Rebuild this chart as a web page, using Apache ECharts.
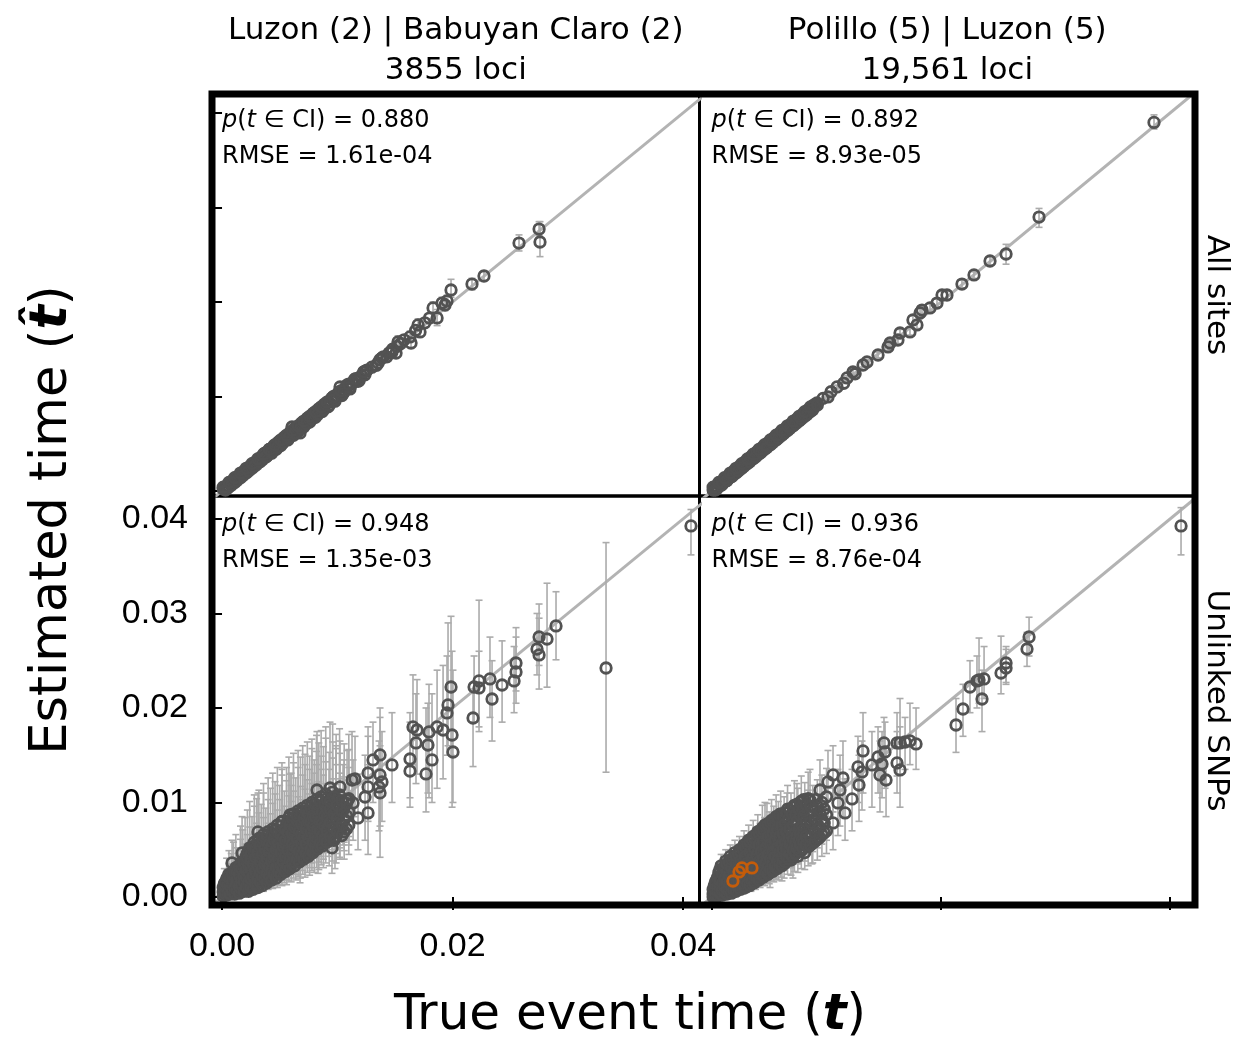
<!DOCTYPE html>
<html><head><meta charset="utf-8">
<script src="https://cdn.jsdelivr.net/npm/echarts@6/dist/echarts.min.js"></script>
<style>html,body{margin:0;padding:0;background:#fff}#c{width:1243px;height:1048px}</style>
</head><body><div id="c"></div><script>
// ---------------- data ----------------
const colTitles = ['Luzon (2) | Babuyan Claro (2)\n3855 loci', 'Polillo (5) | Luzon (5)\n19,561 loci'];
const rowLabels = ['All sites', 'Unlinked SNPs'];
const pInCI = ['0.880', '0.892', '0.948', '0.936'];
const rmse = ['1.61e-04', '8.93e-05', '1.35e-03', '8.76e-04'];
const xTicks = [0, 0.02, 0.04];
const yTicks = [0, 0.01, 0.02, 0.03, 0.04];
const identityEnds = [-0.002, 0.045];

// each point: [true time, estimated time, CI low, CI high] (CI optional)
const allSitesLeft = [
[0.0001,0.0002],[0.0003,0.0002],[0.0004,0.0005],[0.0006,0.0005],[0.0007,0.0008],[0.0009,0.0009],[0.0010,0.0011],[0.0012,0.0012],
[0.0014,0.0013],[0.0015,0.0016],[0.0017,0.0017],[0.0019,0.0018],[0.0020,0.0021],[0.0022,0.0022],[0.0024,0.0023],[0.0025,0.0026],
[0.0027,0.0027],[0.0029,0.0028],[0.0031,0.0031],[0.0032,0.0033],[0.0034,0.0034],[0.0036,0.0035],[0.0038,0.0038],[0.0040,0.0041],
[0.0042,0.0041],[0.0044,0.0045],[0.0046,0.0046],[0.0048,0.0047],[0.0050,0.0051],[0.0052,0.0052],[0.0053,0.0054],[0.0056,0.0055],
[0.0058,0.0059],[0.0060,0.0061],[0.0063,0.0062],[0.0065,0.0066],[0.0067,0.0068],[0.0070,0.0069],[0.0072,0.0073],[0.0075,0.0075],
[0.0077,0.0078],[0.0080,0.0079],[0.0082,0.0083],[0.0085,0.0086],[0.0088,0.0087],[0.0090,0.0092],[0.0093,0.0094],[0.0096,0.0097],
[0.0099,0.0100],[0.0102,0.0103],[0.0106,0.0105],[0.0109,0.0111],[0.0113,0.0114],[0.0117,0.0118],[0.0121,0.0122],[0.0125,0.0127],
[0.0140,0.0142],[0.0145,0.0146],[0.0152,0.0153],[0.0158,0.0160],[0.0168,0.0170],[0.0176,0.0178],[0.0180,0.0183],
[0.00529,0.00540,0.0052,0.0057],[0.00607,0.00677,0.0065,0.0071],[0.00677,0.00614,0.0059,0.0064],[0.00824,0.00825,0.0080,0.0085],
[0.00963,0.00995,0.0097,0.0103],[0.01024,0.01101,0.0107,0.0114],[0.01085,0.01122,0.0109,0.0115],[0.01258,0.01280,0.0124,0.0132],
[0.01354,0.01354,0.0131,0.0140],[0.01388,0.01407,0.0136,0.0145],[0.01475,0.01471,0.0143,0.0152],[0.01510,0.01460,0.0141,0.0150],
[0.01527,0.01577,0.0153,0.0164],[0.01640,0.01566,0.0151,0.0162],[0.01631,0.01630,0.0158,0.0169],[0.01718,0.01683,0.0163,0.0174],
[0.01701,0.01757,0.0170,0.0182],[0.01866,0.01831,0.0175,0.0192],[0.01831,0.01937,0.0188,0.0200],[0.01935,0.01968,0.0191,0.0203],
[0.01909,0.01989,0.0193,0.0205],[0.01952,0.02011,0.0195,0.0207],[0.01987,0.02127,0.0205,0.0224],[0.02169,0.02190,0.0213,0.0225],
[0.02273,0.02275,0.0222,0.0233],[0.02577,0.02624,0.0254,0.0271],[0.02751,0.02772,0.0270,0.0285],[0.02759,0.02635,0.0248,0.0285]
];
const allSitesLeftDense = [
[0.0002,0.0004],[0.0005,0.0003],[0.0008,0.0010],[0.0011,0.0009],[0.0013,0.0015],[0.0016,0.0014],[0.0018,0.0020],[0.0021,0.0019],
[0.0023,0.0025],[0.0026,0.0024],[0.0028,0.0030],[0.0030,0.0028],[0.0033,0.0035],[0.0035,0.0033],[0.0037,0.0040],[0.0039,0.0037],
[0.0041,0.0044],[0.0043,0.0040],[0.0045,0.0048],[0.0047,0.0044],[0.0049,0.0052],[0.0051,0.0048],[0.0054,0.0057],[0.0057,0.0054],
[0.0059,0.0062],[0.0062,0.0059],[0.0064,0.0067],[0.0066,0.0063],[0.0069,0.0072],[0.0071,0.0068],[0.0074,0.0077],[0.0076,0.0073],
[0.0079,0.0082],[0.0081,0.0078],[0.0084,0.0087],[0.0087,0.0084],[0.0089,0.0092],[0.0092,0.0089],[0.0095,0.0098],[0.0098,0.0095],
[0.0101,0.0104],[0.0104,0.0101],[0.0108,0.0111],[0.0111,0.0108],[0.0115,0.0118],[0.0119,0.0117],[0.0123,0.0126]
];
const allSitesLeftEdge = [
[0.0003,0.0001],[0.0001,0.0004],[0.0008,0.0006],[0.0006,0.0009],[0.0013,0.0011],[0.0011,0.0014],[0.0018,0.0016],[0.0016,0.0019],
[0.0023,0.0021],[0.0021,0.0024],[0.0028,0.0026],[0.0026,0.0029],[0.0033,0.0031],[0.0031,0.0034],[0.0038,0.0036],[0.0036,0.0039],
[0.0043,0.0041],[0.0041,0.0044],[0.0048,0.0046],[0.0046,0.0049],[0.0053,0.0051],[0.0051,0.0054],[0.0058,0.0056],[0.0056,0.0059],
[0.0063,0.0061],[0.0061,0.0064],[0.0068,0.0066],[0.0066,0.0069],[0.0073,0.0071],[0.0071,0.0074],[0.0078,0.0076],[0.0076,0.0079],
[0.0083,0.0081],[0.0081,0.0084],[0.0088,0.0086],[0.0086,0.0089],[0.0093,0.0091],[0.0091,0.0094],[0.0098,0.0097],[0.0097,0.0100],
[0.0105,0.0103],[0.0103,0.0106],[0.0111,0.0110],[0.0110,0.0113],[0.0118,0.0116],[0.0116,0.0119],[0.0124,0.0123],[0.0123,0.0126],
[0.0130,0.0131],[0.0134,0.0133],[0.0137,0.0139],[0.0143,0.0142],[0.0148,0.0150],[0.0155,0.0156]
];

const allSitesRight = [
[0.0001,0.0001],[0.0002,0.0003],[0.0003,0.0002],[0.0004,0.0005],[0.0005,0.0004],[0.0006,0.0007],[0.0008,0.0007],[0.0009,0.0010],
[0.0010,0.0009],[0.0012,0.0012],[0.0013,0.0014],[0.0014,0.0013],[0.0016,0.0016],[0.0017,0.0018],[0.0019,0.0018],[0.0020,0.0021],
[0.0022,0.0022],[0.0023,0.0024],[0.0025,0.0024],[0.0026,0.0027],[0.0028,0.0028],[0.0030,0.0029],[0.0031,0.0032],[0.0033,0.0033],
[0.0034,0.0035],[0.0036,0.0035],[0.0038,0.0038],[0.0039,0.0040],[0.0041,0.0041],[0.0043,0.0042],[0.0045,0.0045],[0.0046,0.0047],
[0.0048,0.0048],[0.0050,0.0049],[0.0052,0.0052],[0.0054,0.0054],[0.0056,0.0055],[0.0058,0.0058],[0.0060,0.0061],[0.0062,0.0062],
[0.0064,0.0063],[0.0066,0.0067],[0.0068,0.0068],[0.0070,0.0070],[0.0072,0.0073],[0.0074,0.0074],[0.0076,0.0076],[0.0078,0.0079],
[0.0080,0.0080],[0.0082,0.0082],[0.0084,0.0085],[0.0086,0.0086],[0.0088,0.0089],[0.0090,0.0091],
[0.0097,0.0098],[0.0104,0.0105],[0.0115,0.0114],[0.0125,0.0124],
[0.00917,0.00931,0.0091,0.0095],[0.01013,0.00995,0.0097,0.0102],[0.01092,0.01101,0.0108,0.0112],[0.01179,0.01196,0.0117,0.0122],
[0.01231,0.01259,0.0123,0.0129],[0.01319,0.01333,0.0131,0.0136],[0.01354,0.01365,0.0134,0.0139],[0.01450,0.01439,0.0141,0.0147],
[0.01537,0.01524,0.0149,0.0156],[0.01555,0.01566,0.0153,0.0160],[0.01624,0.01598,0.0156,0.0163],[0.01642,0.01672,0.0163,0.0171],
[0.01729,0.01683,0.0165,0.0172],[0.01790,0.01757,0.0172,0.0179],[0.01755,0.01810,0.0177,0.0185],[0.01817,0.01884,0.0184,0.0193],
[0.01904,0.01937,0.0190,0.0198],[0.01965,0.01989,0.0195,0.0203],[0.01834,0.01915,0.0188,0.0195],[0.02009,0.02074,0.0203,0.0211],
[0.02052,0.02074,0.0203,0.0211],[0.02183,0.02190,0.0215,0.0223],[0.02288,0.02286,0.0225,0.0232],[0.02428,0.02434,0.0239,0.0248],
[0.02568,0.02508,0.0240,0.0261],[0.02856,0.02899,0.0279,0.0299],[0.0386,0.0390,0.0383,0.0398]
];
const allSitesRightDense = [
[0.0002,0.0004],[0.0004,0.0002],[0.0007,0.0009],[0.0009,0.0007],[0.0011,0.0013],[0.0013,0.0011],[0.0015,0.0017],[0.0017,0.0015],
[0.0019,0.0021],[0.0021,0.0019],[0.0024,0.0026],[0.0026,0.0024],[0.0029,0.0031],[0.0031,0.0029],[0.0034,0.0036],[0.0036,0.0034],
[0.0039,0.0041],[0.0041,0.0039],[0.0044,0.0046],[0.0046,0.0044],[0.0049,0.0051],[0.0051,0.0049],[0.0054,0.0056],[0.0056,0.0054],
[0.0059,0.0061],[0.0061,0.0059],[0.0064,0.0066],[0.0066,0.0064],[0.0069,0.0071],[0.0071,0.0069],[0.0074,0.0076],[0.0076,0.0074],
[0.0079,0.0081],[0.0081,0.0079],[0.0084,0.0086],[0.0086,0.0084],[0.0089,0.0091]
];
const allSitesRightEdge = [
[0.0003,0.0001],[0.0001,0.0004],[0.0008,0.0006],[0.0006,0.0009],[0.0013,0.0011],[0.0011,0.0014],[0.0018,0.0016],[0.0016,0.0019],
[0.0023,0.0021],[0.0021,0.0024],[0.0028,0.0026],[0.0026,0.0029],[0.0033,0.0031],[0.0031,0.0034],[0.0038,0.0036],[0.0036,0.0039],
[0.0043,0.0041],[0.0041,0.0044],[0.0048,0.0046],[0.0046,0.0049],[0.0053,0.0051],[0.0051,0.0054],[0.0058,0.0056],[0.0056,0.0059],
[0.0063,0.0061],[0.0061,0.0064],[0.0068,0.0066],[0.0066,0.0069],[0.0073,0.0071],[0.0071,0.0074],[0.0078,0.0076],[0.0076,0.0079],
[0.0083,0.0081],[0.0081,0.0084],[0.0088,0.0086],[0.0086,0.0089],[0.0092,0.0091]
];

const unlinkedLeft = [
[0.04069,0.03926,0.0362,0.0410],[0.03332,0.02423,0.0132,0.0375],[0.02898,0.02868,0.0251,0.0323],[0.02820,0.02730,0.0222,0.0332],
[0.02751,0.02751,0.0245,0.0310],[0.02733,0.02624,0.0235,0.0300],[0.02751,0.02561,0.0220,0.0295],[0.02551,0.02476,0.0218,0.0285],
[0.02551,0.02381,0.0205,0.0275],[0.02534,0.02286,0.0195,0.0265],[0.02430,0.02243,0.0185,0.0271],[0.02325,0.02307,0.0190,0.0275],
[0.02343,0.02095,0.0165,0.0250],[0.02230,0.02286,0.0175,0.0314],[0.02230,0.02212,0.0180,0.0260],[0.02187,0.02222,0.0185,0.0255],
[0.01987,0.02222,0.0150,0.0297],
[0.02178,0.01894,0.0138,0.0220],[0.01961,0.02032,0.0160,0.0290],[0.01952,0.01947,0.0150,0.0255],[0.01657,0.01799,0.0140,0.0235],
[0.01692,0.01767,0.0130,0.0230],[0.01683,0.01630,0.0120,0.0215],[0.01796,0.01746,0.0105,0.0225],[0.01866,0.01799,0.0115,0.0240],
[0.01918,0.01767,0.0125,0.0245],[0.01996,0.01714,0.0095,0.0260],[0.02004,0.01534,0.0100,0.0240],[0.01787,0.01608,0.0110,0.0205],
[0.01822,0.01450,0.0100,0.0215],[0.01770,0.01302,0.0090,0.0200],[0.01631,0.01460,0.0105,0.0195],[0.01631,0.01333,0.0095,0.0185],
[0.01475,0.01397,0.0100,0.0195],[0.01371,0.01503,0.0105,0.0200],[0.01310,0.01450,0.0100,0.0185],[0.01267,0.01312,0.0085,0.0180],
[0.01371,0.01291,0.0075,0.0190],[0.01388,0.01217,0.0080,0.0175],[0.01362,0.01164,0.0070,0.0165],[0.01371,0.01101,0.0042,0.0160],
[0.01267,0.01164,0.0080,0.0170],[0.01241,0.01058,0.0060,0.0150],[0.01267,0.00889,0.0045,0.0140],[0.01180,0.00836,0.0050,0.0130],
[0.01128,0.01238,0.0080,0.0175],[0.01154,0.01249,0.0085,0.0170],[0.01024,0.01164,0.0070,0.0165],[0.00937,0.01153,0.0065,0.0185],
[0.00824,0.01132,0.0065,0.0175],[0.01085,0.01026,0.0060,0.0155],[0.00989,0.00952,0.0050,0.0160],[0.01050,0.00921,0.0055,0.0140],
[0.01137,0.00995,0.0060,0.0145],[0.01024,0.00783,0.0040,0.0125],[0.00954,0.00519,0.0025,0.0110],[0.00980,0.00624,0.0030,0.0120],
[0.00833,0.00529,0.0025,0.0100],[0.00677,0.00392,0.0015,0.0085],[0.00590,0.00868,0.0050,0.0130],[0.00521,0.00794,0.0045,0.0135],
[0.00312,0.00688,0.0035,0.0110],[0.00174,0.00466,0.0020,0.0085],[0.00087,0.00360,0.0015,0.0060],
[0.0002,0.0003,0.0001,0.0009],[0.0002,0.0008,0.0003,0.0019],[0.0002,0.0014,0.0006,0.0030],
[0.0004,0.0002,0.0001,0.0007],[0.0004,0.0011,0.0004,0.0026],[0.0004,0.0019,0.0008,0.0041],
[0.0006,0.0006,0.0002,0.0016],[0.0006,0.0016,0.0007,0.0035],[0.0006,0.0024,0.0011,0.0049],
[0.0008,0.0004,0.0001,0.0013],[0.0008,0.0010,0.0004,0.0024],[0.0008,0.0021,0.0010,0.0046],
[0.0010,0.0007,0.0002,0.0019],[0.0010,0.0014,0.0006,0.0033],[0.0010,0.0027,0.0012,0.0058],
[0.0012,0.0005,0.0002,0.0015],[0.0012,0.0018,0.0008,0.0040],[0.0012,0.0024,0.0011,0.0052],[0.0012,0.0031,0.0015,0.0066],
[0.0014,0.0009,0.0003,0.0024],[0.0014,0.0013,0.0005,0.0031],[0.0014,0.0022,0.0010,0.0049],
[0.0016,0.0006,0.0002,0.0018],[0.0016,0.0016,0.0007,0.0038],[0.0016,0.0028,0.0013,0.0061],[0.0016,0.0036,0.0018,0.0075],
[0.0018,0.0011,0.0004,0.0029],[0.0018,0.0020,0.0009,0.0045],[0.0018,0.0033,0.0016,0.0071],
[0.0020,0.0008,0.0003,0.0022],[0.0020,0.0015,0.0006,0.0036],[0.0020,0.0025,0.0011,0.0056],[0.0020,0.0040,0.0020,0.0084],
[0.0022,0.0012,0.0004,0.0031],[0.0022,0.0019,0.0008,0.0044],[0.0022,0.0030,0.0014,0.0066],[0.0022,0.0046,0.0024,0.0092],
[0.0024,0.0009,0.0003,0.0025],[0.0024,0.0023,0.0010,0.0052],[0.0024,0.0035,0.0017,0.0074],[0.0024,0.0052,0.0028,0.0101],
[0.0026,0.0014,0.0005,0.0035],[0.0026,0.0027,0.0012,0.0059],[0.0026,0.0041,0.0020,0.0085],
[0.0028,0.0011,0.0004,0.0029],[0.0028,0.0018,0.0007,0.0042],[0.0028,0.0031,0.0014,0.0067],[0.0028,0.0048,0.0025,0.0096],[0.0028,0.0058,0.0031,0.0108],
[0.0030,0.0016,0.0006,0.0039],[0.0030,0.0024,0.0010,0.0054],[0.0030,0.0037,0.0018,0.0078],[0.0030,0.0055,0.0029,0.0104],
[0.0032,0.0013,0.0005,0.0033],[0.0032,0.0021,0.0009,0.0048],[0.0032,0.0029,0.0013,0.0063],[0.0032,0.0043,0.0021,0.0089],[0.0032,0.0062,0.0034,0.0113],
[0.0034,0.0019,0.0008,0.0044],[0.0034,0.0034,0.0016,0.0073],[0.0034,0.0050,0.0026,0.0098],
[0.0036,0.0016,0.0006,0.0038],[0.0036,0.0026,0.0011,0.0058],[0.0036,0.0040,0.0019,0.0084],[0.0036,0.0058,0.0031,0.0110],[0.0036,0.0066,0.0037,0.0120],
[0.0038,0.0022,0.0009,0.0050],[0.0038,0.0031,0.0014,0.0067],[0.0038,0.0046,0.0023,0.0094],
[0.0040,0.0019,0.0008,0.0044],[0.0040,0.0028,0.0012,0.0061],[0.0040,0.0037,0.0017,0.0078],[0.0040,0.0053,0.0028,0.0103],[0.0040,0.0069,0.0039,0.0126],
[0.0042,0.0024,0.0010,0.0054],[0.0042,0.0043,0.0021,0.0088],[0.0042,0.0061,0.0033,0.0115],
[0.0044,0.0021,0.0009,0.0047],[0.0044,0.0033,0.0015,0.0070],[0.0044,0.0050,0.0026,0.0099],[0.0044,0.0072,0.0041,0.0131],
[0.0046,0.0027,0.0012,0.0059],[0.0046,0.0039,0.0018,0.0080],[0.0046,0.0057,0.0031,0.0109],[0.0046,0.0066,0.0037,0.0122],
[0.0048,0.0024,0.0010,0.0053],[0.0048,0.0046,0.0023,0.0092],[0.0048,0.0076,0.0044,0.0137],
[0.0050,0.0030,0.0013,0.0064],[0.0050,0.0036,0.0017,0.0075],[0.0050,0.0053,0.0028,0.0103],[0.0050,0.0063,0.0035,0.0118],
[0.0052,0.0027,0.0012,0.0058],[0.0052,0.0042,0.0020,0.0085],[0.0052,0.0070,0.0040,0.0129],[0.0052,0.0080,0.0047,0.0142],
[0.0054,0.0033,0.0015,0.0069],[0.0054,0.0049,0.0025,0.0096],[0.0054,0.0059,0.0032,0.0112],
[0.0056,0.0030,0.0013,0.0063],[0.0056,0.0039,0.0018,0.0080],[0.0056,0.0066,0.0037,0.0123],[0.0056,0.0076,0.0044,0.0137],
[0.0058,0.0036,0.0017,0.0074],[0.0058,0.0046,0.0023,0.0092],[0.0058,0.0056,0.0030,0.0107],[0.0058,0.0084,0.0050,0.0148],
[0.0060,0.0034,0.0016,0.0071],[0.0060,0.0052,0.0027,0.0101],[0.0060,0.0063,0.0035,0.0118],[0.0060,0.0072,0.0041,0.0131],
[0.0062,0.0041,0.0020,0.0083],[0.0062,0.0059,0.0032,0.0112],[0.0062,0.0080,0.0047,0.0142],[0.0062,0.0088,0.0053,0.0152],
[0.0064,0.0037,0.0018,0.0076],[0.0064,0.0048,0.0024,0.0095],[0.0064,0.0068,0.0038,0.0126],
[0.0066,0.0044,0.0022,0.0088],[0.0066,0.0055,0.0029,0.0106],[0.0066,0.0076,0.0044,0.0137],[0.0066,0.0091,0.0055,0.0155],
[0.0068,0.0040,0.0020,0.0081],[0.0068,0.0062,0.0034,0.0117],[0.0068,0.0084,0.0050,0.0148],
[0.0070,0.0047,0.0024,0.0093],[0.0070,0.0053,0.0028,0.0103],[0.0070,0.0070,0.0040,0.0129],[0.0070,0.0094,0.0057,0.0160],
[0.0072,0.0043,0.0021,0.0086],[0.0072,0.0060,0.0033,0.0114],[0.0072,0.0078,0.0046,0.0140],[0.0072,0.0087,0.0052,0.0151],
[0.0074,0.0050,0.0026,0.0098],[0.0074,0.0067,0.0038,0.0124],[0.0074,0.0097,0.0059,0.0164],
[0.0076,0.0046,0.0023,0.0091],[0.0076,0.0057,0.0031,0.0109],[0.0076,0.0074,0.0043,0.0135],[0.0076,0.0085,0.0051,0.0149],
[0.0078,0.0053,0.0028,0.0103],[0.0078,0.0064,0.0036,0.0120],[0.0078,0.0092,0.0056,0.0157],[0.0078,0.0100,0.0061,0.0167],
[0.0080,0.0050,0.0026,0.0098],[0.0080,0.0071,0.0041,0.0131],[0.0080,0.0081,0.0048,0.0145],
[0.0082,0.0058,0.0031,0.0110],[0.0082,0.0078,0.0046,0.0140],[0.0082,0.0089,0.0054,0.0154],[0.0082,0.0103,0.0063,0.0171],
[0.0084,0.0054,0.0029,0.0104],[0.0084,0.0066,0.0037,0.0122],[0.0084,0.0096,0.0059,0.0163],
[0.0086,0.0061,0.0034,0.0115],[0.0086,0.0074,0.0043,0.0135],[0.0086,0.0085,0.0051,0.0149],[0.0086,0.0106,0.0066,0.0176],
[0.0088,0.0057,0.0031,0.0108],[0.0088,0.0070,0.0040,0.0129],[0.0088,0.0093,0.0057,0.0159],
[0.0090,0.0065,0.0036,0.0120],[0.0090,0.0080,0.0047,0.0143],[0.0090,0.0100,0.0061,0.0168],[0.0090,0.0109,0.0068,0.0180],
[0.0093,0.0060,0.0033,0.0112],[0.0093,0.0074,0.0043,0.0135],[0.0093,0.0088,0.0053,0.0153],
[0.0096,0.0068,0.0038,0.0125],[0.0096,0.0083,0.0050,0.0147],[0.0096,0.0097,0.0059,0.0164],[0.0096,0.0111,0.0069,0.0183],
[0.0099,0.0064,0.0036,0.0119],[0.0099,0.0078,0.0046,0.0140],[0.0099,0.0092,0.0056,0.0157],[0.0099,0.0104,0.0064,0.0172],
[0.0102,0.0072,0.0042,0.0131],[0.0102,0.0087,0.0052,0.0152],[0.0102,0.0108,0.0067,0.0178],
[0.0106,0.0069,0.0040,0.0127],[0.0106,0.0082,0.0049,0.0145],[0.0106,0.0095,0.0058,0.0162],
[0.0110,0.0076,0.0045,0.0137],[0.0110,0.0090,0.0055,0.0156],[0.0110,0.0104,0.0064,0.0172]
];
const unlinkedLeftDense = [
[0.0001,0.0001],[0.0001,0.0005],[0.0001,0.0010],[0.0003,0.0004],[0.0003,0.0010],[0.0003,0.0016],
[0.0005,0.0004],[0.0005,0.0008],[0.0005,0.0013],[0.0005,0.0021],[0.0007,0.0003],[0.0007,0.0011],[0.0007,0.0019],
[0.0009,0.0006],[0.0009,0.0013],[0.0009,0.0017],[0.0009,0.0024],[0.0011,0.0003],[0.0011,0.0010],[0.0011,0.0021],[0.0011,0.0028],
[0.0013,0.0007],[0.0013,0.0015],[0.0013,0.0019],[0.0013,0.0027],[0.0015,0.0004],[0.0015,0.0011],[0.0015,0.0024],[0.0015,0.0032],
[0.0017,0.0008],[0.0017,0.0013],[0.0017,0.0018],[0.0017,0.0030],[0.0019,0.0006],[0.0019,0.0016],[0.0019,0.0023],[0.0019,0.0037],
[0.0021,0.0010],[0.0021,0.0021],[0.0021,0.0028],[0.0021,0.0043],[0.0023,0.0006],[0.0023,0.0016],[0.0023,0.0026],[0.0023,0.0033],[0.0023,0.0049],
[0.0025,0.0011],[0.0025,0.0019],[0.0025,0.0030],[0.0025,0.0038],[0.0025,0.0045],[0.0027,0.0008],[0.0027,0.0022],[0.0027,0.0035],[0.0027,0.0053],
[0.0029,0.0014],[0.0029,0.0027],[0.0029,0.0042],[0.0029,0.0051],[0.0031,0.0010],[0.0031,0.0019],[0.0031,0.0033],[0.0031,0.0046],[0.0031,0.0059],
[0.0033,0.0016],[0.0033,0.0025],[0.0033,0.0038],[0.0033,0.0055],[0.0035,0.0012],[0.0035,0.0022],[0.0035,0.0030],[0.0035,0.0045],[0.0035,0.0062],
[0.0037,0.0019],[0.0037,0.0035],[0.0037,0.0051],[0.0039,0.0015],[0.0039,0.0025],[0.0039,0.0041],[0.0039,0.0058],[0.0039,0.0065],
[0.0041,0.0022],[0.0041,0.0032],[0.0041,0.0048],[0.0041,0.0056],[0.0043,0.0018],[0.0043,0.0028],[0.0043,0.0038],[0.0043,0.0054],[0.0043,0.0067],
[0.0045,0.0024],[0.0045,0.0044],[0.0045,0.0061],[0.0047,0.0020],[0.0047,0.0031],[0.0047,0.0050],[0.0047,0.0071],
[0.0049,0.0027],[0.0049,0.0040],[0.0049,0.0057],[0.0049,0.0068],[0.0051,0.0024],[0.0051,0.0033],[0.0051,0.0047],[0.0051,0.0065],[0.0051,0.0075],
[0.0053,0.0030],[0.0053,0.0038],[0.0053,0.0054],[0.0053,0.0063],[0.0055,0.0027],[0.0055,0.0043],[0.0055,0.0060],[0.0055,0.0071],
[0.0057,0.0033],[0.0057,0.0050],[0.0057,0.0069],[0.0057,0.0080],[0.0059,0.0030],[0.0059,0.0040],[0.0059,0.0060],[0.0059,0.0076],
[0.0061,0.0037],[0.0061,0.0046],[0.0061,0.0056],[0.0061,0.0067],[0.0061,0.0083],[0.0063,0.0033],[0.0063,0.0053],[0.0063,0.0074],
[0.0065,0.0040],[0.0065,0.0051],[0.0065,0.0062],[0.0065,0.0081],[0.0065,0.0086],[0.0067,0.0037],[0.0067,0.0048],[0.0067,0.0069],
[0.0069,0.0043],[0.0069,0.0057],[0.0069,0.0066],[0.0069,0.0077],[0.0069,0.0089],[0.0071,0.0040],[0.0071,0.0050],[0.0071,0.0063],[0.0071,0.0083],
[0.0073,0.0046],[0.0073,0.0056],[0.0073,0.0072],[0.0073,0.0091],[0.0075,0.0043],[0.0075,0.0062],[0.0075,0.0080],[0.0075,0.0088],
[0.0077,0.0050],[0.0077,0.0069],[0.0077,0.0079],[0.0077,0.0095],[0.0079,0.0047],[0.0079,0.0058],[0.0079,0.0075],[0.0079,0.0086],
[0.0081,0.0054],[0.0081,0.0064],[0.0081,0.0085],[0.0081,0.0098],[0.0083,0.0051],[0.0083,0.0061],[0.0083,0.0072],[0.0083,0.0093],
[0.0085,0.0057],[0.0085,0.0069],[0.0085,0.0080],[0.0085,0.0101],[0.0087,0.0054],[0.0087,0.0065],[0.0087,0.0078],[0.0087,0.0090],
[0.0089,0.0061],[0.0089,0.0075],[0.0089,0.0086],[0.0089,0.0097],[0.0091,0.0058],[0.0091,0.0070],[0.0091,0.0084],[0.0091,0.0104],
[0.0094,0.0064],[0.0094,0.0079],[0.0094,0.0093],[0.0094,0.0101],[0.0097,0.0060],[0.0097,0.0073],[0.0097,0.0088],[0.0097,0.0106],
[0.0100,0.0069],[0.0100,0.0083],[0.0100,0.0097],[0.0104,0.0065],[0.0104,0.0077],[0.0104,0.0091],[0.0104,0.0102],
[0.0108,0.0072],[0.0108,0.0086],[0.0108,0.0099]
];

const unlinkedRight = [
[0.04096,0.03926,0.0362,0.0412],[0.02769,0.02751,0.0255,0.0296],[0.02751,0.02624,0.0244,0.0280],[0.02568,0.02476,0.0227,0.0265],
[0.02568,0.02423,0.0225,0.0262],[0.02524,0.02370,0.0215,0.0276],[0.02376,0.02307,0.0210,0.0265],[0.02332,0.02296,0.0205,0.0274],
[0.02314,0.02286,0.0200,0.0255],[0.02253,0.02222,0.0195,0.0250],[0.02358,0.02095,0.0175,0.0240],[0.02192,0.01989,0.0170,0.0225],
[0.02131,0.01820,0.0153,0.0210],[0.01782,0.01619,0.0135,0.0200],[0.01729,0.01651,0.0140,0.0205],[0.01686,0.01640,0.0135,0.0190],
[0.01642,0.01630,0.0130,0.0210],[0.01616,0.01630,0.0128,0.0195],[0.01502,0.01630,0.0120,0.0190],[0.01642,0.01344,0.0095,0.0180],
[0.01616,0.01418,0.0110,0.0175],[0.01511,0.01534,0.0115,0.0185],[0.01450,0.01481,0.0110,0.0180],[0.01485,0.01407,0.0105,0.0175],
[0.01467,0.01291,0.0090,0.0165],[0.01520,0.01238,0.0085,0.0160],[0.01397,0.01397,0.0095,0.0175],[0.01319,0.01545,0.0110,0.0195],
[0.01275,0.01376,0.0100,0.0170],[0.01310,0.01323,0.0092,0.0165],[0.01284,0.01185,0.0080,0.0150],[0.01223,0.01037,0.0070,0.0135],
[0.01144,0.01259,0.0085,0.0165],[0.01057,0.01291,0.0090,0.0160],[0.01013,0.01217,0.0085,0.0155],[0.00943,0.01132,0.0080,0.0145],
[0.01118,0.01132,0.0075,0.0150],[0.01100,0.00995,0.0065,0.0135],[0.01162,0.00889,0.0060,0.0125],[0.01057,0.00783,0.0050,0.0115],
[0.00873,0.00582,0.0035,0.0090],[0.00856,0.01026,0.0070,0.0135],[0.00742,0.00889,0.0060,0.0120],[0.00655,0.00794,0.0050,0.0110],
[0.00463,0.00762,0.0050,0.0100],[0.00707,0.00423,0.0020,0.0070],[0.00611,0.00360,0.0017,0.0062],[0.00507,0.00265,0.0010,0.0050],
[0.00271,0.00106,0.0003,0.0030],
[0.0002,0.0001,0.0000,0.0004],[0.0002,0.0006,0.0002,0.0011],[0.0002,0.0012,0.0006,0.0019],
[0.0004,0.0003,0.0001,0.0007],[0.0004,0.0009,0.0004,0.0016],[0.0004,0.0018,0.0010,0.0027],
[0.0006,0.0002,0.0000,0.0006],[0.0006,0.0007,0.0003,0.0013],[0.0006,0.0014,0.0007,0.0022],[0.0006,0.0026,0.0016,0.0036],
[0.0008,0.0005,0.0002,0.0010],[0.0008,0.0011,0.0005,0.0019],[0.0008,0.0020,0.0011,0.0030],[0.0008,0.0033,0.0021,0.0045],
[0.0010,0.0003,0.0001,0.0008],[0.0010,0.0008,0.0003,0.0015],[0.0010,0.0016,0.0008,0.0026],[0.0010,0.0029,0.0018,0.0041],
[0.0012,0.0006,0.0002,0.0012],[0.0012,0.0013,0.0006,0.0022],[0.0012,0.0023,0.0013,0.0034],[0.0012,0.0038,0.0024,0.0050],
[0.0014,0.0004,0.0001,0.0009],[0.0014,0.0010,0.0004,0.0018],[0.0014,0.0019,0.0010,0.0030],[0.0014,0.0032,0.0020,0.0044],
[0.0016,0.0008,0.0003,0.0015],[0.0016,0.0015,0.0007,0.0025],[0.0016,0.0027,0.0016,0.0039],[0.0016,0.0043,0.0028,0.0055],
[0.0018,0.0006,0.0002,0.0012],[0.0018,0.0012,0.0005,0.0021],[0.0018,0.0022,0.0012,0.0034],[0.0018,0.0036,0.0023,0.0048],
[0.0020,0.0010,0.0004,0.0018],[0.0020,0.0018,0.0009,0.0029],[0.0020,0.0030,0.0018,0.0043],[0.0020,0.0047,0.0031,0.0060],
[0.0022,0.0008,0.0003,0.0015],[0.0022,0.0015,0.0007,0.0025],[0.0022,0.0025,0.0014,0.0038],[0.0022,0.0040,0.0026,0.0054],
[0.0024,0.0012,0.0005,0.0021],[0.0024,0.0021,0.0011,0.0033],[0.0024,0.0034,0.0021,0.0048],[0.0024,0.0050,0.0033,0.0064],
[0.0026,0.0010,0.0004,0.0018],[0.0026,0.0017,0.0008,0.0028],[0.0026,0.0028,0.0016,0.0041],[0.0026,0.0044,0.0029,0.0058],
[0.0028,0.0014,0.0006,0.0024],[0.0028,0.0024,0.0013,0.0037],[0.0028,0.0038,0.0024,0.0053],[0.0028,0.0055,0.0037,0.0070],
[0.0030,0.0012,0.0005,0.0021],[0.0030,0.0020,0.0010,0.0031],[0.0030,0.0031,0.0018,0.0045],[0.0030,0.0048,0.0032,0.0063],
[0.0032,0.0016,0.0007,0.0027],[0.0032,0.0027,0.0015,0.0040],[0.0032,0.0042,0.0027,0.0058],[0.0032,0.0060,0.0041,0.0076],
[0.0034,0.0014,0.0006,0.0024],[0.0034,0.0023,0.0012,0.0035],[0.0034,0.0035,0.0021,0.0050],[0.0034,0.0053,0.0036,0.0068],
[0.0036,0.0019,0.0009,0.0031],[0.0036,0.0030,0.0017,0.0044],[0.0036,0.0046,0.0030,0.0062],[0.0036,0.0064,0.0044,0.0081],
[0.0038,0.0017,0.0008,0.0028],[0.0038,0.0026,0.0014,0.0039],[0.0038,0.0039,0.0024,0.0055],[0.0038,0.0057,0.0039,0.0073],
[0.0040,0.0022,0.0011,0.0035],[0.0040,0.0033,0.0019,0.0048],[0.0040,0.0050,0.0033,0.0067],[0.0040,0.0069,0.0048,0.0087],
[0.0042,0.0020,0.0010,0.0032],[0.0042,0.0029,0.0016,0.0043],[0.0042,0.0043,0.0027,0.0059],[0.0042,0.0061,0.0042,0.0078],
[0.0044,0.0025,0.0013,0.0039],[0.0044,0.0037,0.0022,0.0053],[0.0044,0.0054,0.0036,0.0072],[0.0044,0.0073,0.0051,0.0097],
[0.0046,0.0023,0.0012,0.0036],[0.0046,0.0032,0.0018,0.0047],[0.0046,0.0047,0.0030,0.0064],[0.0046,0.0066,0.0046,0.0084],
[0.0048,0.0028,0.0015,0.0043],[0.0048,0.0040,0.0024,0.0057],[0.0048,0.0058,0.0039,0.0077],[0.0048,0.0077,0.0055,0.0099],
[0.0050,0.0026,0.0014,0.0040],[0.0050,0.0036,0.0021,0.0052],[0.0050,0.0051,0.0033,0.0069],[0.0050,0.0070,0.0049,0.0090],
[0.0052,0.0031,0.0017,0.0047],[0.0052,0.0044,0.0027,0.0062],[0.0052,0.0062,0.0042,0.0082],[0.0052,0.0081,0.0058,0.0103],
[0.0054,0.0029,0.0016,0.0044],[0.0054,0.0039,0.0023,0.0056],[0.0054,0.0055,0.0036,0.0074],[0.0054,0.0074,0.0052,0.0096],
[0.0056,0.0034,0.0019,0.0051],[0.0056,0.0047,0.0029,0.0066],[0.0056,0.0066,0.0045,0.0088],[0.0056,0.0085,0.0061,0.0108],
[0.0058,0.0032,0.0018,0.0048],[0.0058,0.0043,0.0026,0.0061],[0.0058,0.0059,0.0039,0.0080],[0.0058,0.0078,0.0055,0.0101],
[0.0060,0.0037,0.0021,0.0055],[0.0060,0.0051,0.0032,0.0071],[0.0060,0.0070,0.0048,0.0093],[0.0060,0.0088,0.0063,0.0112],
[0.0063,0.0035,0.0020,0.0052],[0.0063,0.0046,0.0028,0.0065],[0.0063,0.0063,0.0042,0.0085],[0.0063,0.0082,0.0058,0.0106],
[0.0066,0.0041,0.0024,0.0060],[0.0066,0.0055,0.0035,0.0076],[0.0066,0.0074,0.0051,0.0098],[0.0066,0.0093,0.0067,0.0118],
[0.0069,0.0039,0.0023,0.0057],[0.0069,0.0050,0.0031,0.0070],[0.0069,0.0067,0.0045,0.0090],[0.0069,0.0086,0.0061,0.0110],
[0.0072,0.0045,0.0027,0.0065],[0.0072,0.0059,0.0038,0.0081],[0.0072,0.0078,0.0054,0.0102],[0.0072,0.0097,0.0070,0.0123],
[0.0075,0.0043,0.0026,0.0062],[0.0075,0.0055,0.0035,0.0076],[0.0075,0.0072,0.0049,0.0096],[0.0075,0.0090,0.0064,0.0115],
[0.0078,0.0049,0.0030,0.0070],[0.0078,0.0063,0.0041,0.0086],[0.0078,0.0082,0.0057,0.0107],[0.0078,0.0101,0.0073,0.0128],
[0.0081,0.0047,0.0029,0.0067],[0.0081,0.0059,0.0038,0.0081],[0.0081,0.0076,0.0052,0.0100],[0.0081,0.0095,0.0068,0.0121],
[0.0084,0.0053,0.0033,0.0075],[0.0084,0.0068,0.0045,0.0092],[0.0084,0.0087,0.0061,0.0113],[0.0084,0.0104,0.0075,0.0132],
[0.0088,0.0057,0.0036,0.0080],[0.0088,0.0072,0.0048,0.0097],[0.0088,0.0091,0.0064,0.0118],
[0.0092,0.0061,0.0039,0.0085],[0.0092,0.0077,0.0052,0.0103],[0.0092,0.0096,0.0068,0.0124],
[0.0096,0.0066,0.0043,0.0091],[0.0096,0.0082,0.0056,0.0109],[0.0096,0.0100,0.0071,0.0129],
[0.0100,0.0070,0.0046,0.0096],[0.0100,0.0087,0.0060,0.0115],[0.0100,0.0106,0.0076,0.0136]
];
const unlinkedRightDense = [
[0.0001,0.0000],[0.0001,0.0003],[0.0001,0.0008],[0.0003,0.0002],[0.0003,0.0005],[0.0003,0.0012],[0.0003,0.0016],
[0.0005,0.0001],[0.0005,0.0005],[0.0005,0.0011],[0.0005,0.0021],[0.0007,0.0004],[0.0007,0.0010],[0.0007,0.0017],[0.0007,0.0029],
[0.0009,0.0002],[0.0009,0.0007],[0.0009,0.0014],[0.0009,0.0025],[0.0011,0.0005],[0.0011,0.0011],[0.0011,0.0019],[0.0011,0.0032],
[0.0013,0.0003],[0.0013,0.0008],[0.0013,0.0016],[0.0013,0.0027],[0.0013,0.0035],[0.0015,0.0006],[0.0015,0.0012],[0.0015,0.0022],[0.0015,0.0037],
[0.0017,0.0004],[0.0017,0.0010],[0.0017,0.0019],[0.0017,0.0031],[0.0017,0.0040],[0.0019,0.0008],[0.0019,0.0015],[0.0019,0.0026],[0.0019,0.0041],
[0.0021,0.0006],[0.0021,0.0012],[0.0021,0.0022],[0.0021,0.0035],[0.0021,0.0044],[0.0023,0.0010],[0.0023,0.0018],[0.0023,0.0030],[0.0023,0.0046],
[0.0025,0.0008],[0.0025,0.0015],[0.0025,0.0025],[0.0025,0.0039],[0.0025,0.0048],[0.0027,0.0012],[0.0027,0.0021],[0.0027,0.0033],[0.0027,0.0051],
[0.0029,0.0010],[0.0029,0.0017],[0.0029,0.0028],[0.0029,0.0043],[0.0029,0.0053],[0.0031,0.0014],[0.0031,0.0024],[0.0031,0.0036],[0.0031,0.0056],
[0.0033,0.0012],[0.0033,0.0020],[0.0033,0.0031],[0.0033,0.0047],[0.0033,0.0058],[0.0035,0.0017],[0.0035,0.0027],[0.0035,0.0040],[0.0035,0.0061],
[0.0037,0.0015],[0.0037,0.0023],[0.0037,0.0034],[0.0037,0.0051],[0.0037,0.0062],[0.0039,0.0020],[0.0039,0.0030],[0.0039,0.0044],[0.0039,0.0066],
[0.0041,0.0018],[0.0041,0.0026],[0.0041,0.0037],[0.0041,0.0055],[0.0041,0.0067],[0.0043,0.0023],[0.0043,0.0033],[0.0043,0.0048],[0.0043,0.0070],
[0.0045,0.0021],[0.0045,0.0029],[0.0045,0.0041],[0.0045,0.0059],[0.0045,0.0071],[0.0047,0.0026],[0.0047,0.0036],[0.0047,0.0052],[0.0047,0.0075],
[0.0049,0.0024],[0.0049,0.0032],[0.0049,0.0045],[0.0049,0.0064],[0.0049,0.0076],[0.0051,0.0029],[0.0051,0.0040],[0.0051,0.0056],[0.0051,0.0079],
[0.0053,0.0027],[0.0053,0.0035],[0.0053,0.0048],[0.0053,0.0068],[0.0053,0.0080],[0.0055,0.0032],[0.0055,0.0043],[0.0055,0.0060],[0.0055,0.0083],
[0.0057,0.0030],[0.0057,0.0038],[0.0057,0.0052],[0.0057,0.0072],[0.0057,0.0084],[0.0059,0.0035],[0.0059,0.0047],[0.0059,0.0064],[0.0059,0.0087],
[0.0061,0.0033],[0.0061,0.0042],[0.0061,0.0056],[0.0061,0.0076],[0.0062,0.0039],[0.0062,0.0050],[0.0062,0.0067],[0.0062,0.0085],
[0.0064,0.0037],[0.0064,0.0044],[0.0064,0.0058],[0.0064,0.0078],[0.0065,0.0043],[0.0065,0.0052],[0.0065,0.0069],[0.0065,0.0089],
[0.0067,0.0040],[0.0067,0.0047],[0.0067,0.0061],[0.0067,0.0083],[0.0068,0.0046],[0.0068,0.0056],[0.0068,0.0072],[0.0068,0.0092],
[0.0070,0.0043],[0.0070,0.0053],[0.0070,0.0064],[0.0070,0.0088],[0.0071,0.0049],[0.0071,0.0061],[0.0071,0.0076],[0.0071,0.0095],
[0.0073,0.0046],[0.0073,0.0057],[0.0073,0.0068],[0.0073,0.0087],[0.0074,0.0052],[0.0074,0.0064],[0.0074,0.0080],[0.0074,0.0098],
[0.0076,0.0049],[0.0076,0.0060],[0.0076,0.0072],[0.0076,0.0093],[0.0077,0.0055],[0.0077,0.0067],[0.0077,0.0086],[0.0077,0.0100],
[0.0079,0.0052],[0.0079,0.0060],[0.0079,0.0075],[0.0079,0.0092],[0.0080,0.0058],[0.0080,0.0071],[0.0080,0.0086],[0.0080,0.0103],
[0.0082,0.0055],[0.0082,0.0064],[0.0082,0.0080],[0.0082,0.0098],[0.0086,0.0055],[0.0086,0.0063],[0.0086,0.0079],[0.0086,0.0096],
[0.0090,0.0059],[0.0090,0.0068],[0.0090,0.0083],[0.0090,0.0103],[0.0094,0.0063],[0.0094,0.0073],[0.0094,0.0089],
[0.0098,0.0068],[0.0098,0.0078],[0.0098,0.0093]
];

const unlinkedRightHighlight = [
[0.00183,0.00169,0.0010,0.0025],[0.00236,0.00265,0.0018,0.0035],[0.00262,0.00307,0.0022,0.0039],[0.00349,0.00307,0.0022,0.0040]
];

// ---------------- layout ----------------
const FONT = 'DejaVu Sans';
const TICKFONT = '"Liberation Sans", Arial, sans-serif';
const L = 212, MX = 699.5, R = 1195, T = 94, MY = 496, B = 905;
const xRange = [[-0.00087, 0.04143], [-0.00109, 0.04218]];
const yRange = [[-0.00053, 0.04201], [-0.00085, 0.04243]];
const panels = [
  allSitesLeft.concat(allSitesLeftDense, allSitesLeftEdge),
  allSitesRight.concat(allSitesRightDense, allSitesRightEdge),
  unlinkedLeft.concat(unlinkedLeftDense),
  unlinkedRight.concat(unlinkedRightDense)
];
const gridBoxes = [
  {left: L, top: T, width: MX - L, height: MY - T},
  {left: MX, top: T, width: R - MX, height: MY - T},
  {left: L, top: MY, width: MX - L, height: B - MY},
  {left: MX, top: MY, width: R - MX, height: B - MY}
];

function errRender(color) {
  return function (params, api) {
    const x = api.value(0), lo = api.value(2), hi = api.value(3);
    const a = api.coord([x, hi]), b = api.coord([x, lo]);
    const c = 3.5;
    const st = {stroke: color, lineWidth: 1.6};
    return {type: 'group', children: [
      {type: 'line', shape: {x1: a[0], y1: a[1], x2: b[0], y2: b[1]}, style: st},
      {type: 'line', shape: {x1: a[0] - c, y1: a[1], x2: a[0] + c, y2: a[1]}, style: st},
      {type: 'line', shape: {x1: b[0] - c, y1: b[1], x2: b[0] + c, y2: b[1]}, style: st}
    ]};
  };
}

const grid = [], xAxis = [], yAxis = [], series = [];
const SYM = 10.5, SYMW = 2.8, RING = '#525252';
for (let i = 0; i < 4; i++) {
  const col = i % 2, row = Math.floor(i / 2);
  grid.push(Object.assign({show: true, borderColor: '#000', borderWidth: 3, backgroundColor: 'transparent'}, gridBoxes[i]));
  xAxis.push({
    type: 'value', gridIndex: i, min: xRange[col][0], max: xRange[col][1],
    axisLine: {show: false}, splitLine: {show: false},
    axisTick: {show: row === 1, customValues: xTicks, length: 13, lineStyle: {color: '#000', width: 2}},
    axisLabel: {show: row === 1 && col === 0, customValues: xTicks, formatter: v => v.toFixed(2),
      fontFamily: TICKFONT, fontSize: 34, color: '#000', margin: 25}
  });
  yAxis.push({
    type: 'value', gridIndex: i, min: yRange[row][0], max: yRange[row][1],
    axisLine: {show: false}, splitLine: {show: false},
    axisTick: {show: col === 0, customValues: yTicks, length: 13, lineStyle: {color: '#000', width: 2}},
    axisLabel: {show: col === 0 && row === 1, customValues: yTicks, formatter: v => v.toFixed(2),
      fontFamily: TICKFONT, fontSize: 34, color: '#000', margin: 24}
  });
  series.push({
    type: 'line', xAxisIndex: i, yAxisIndex: i, silent: true, symbol: 'none', z: 1,
    data: identityEnds.map(v => [v, v]), lineStyle: {color: '#b3b3b3', width: 3}
  });
  series.push({
    type: 'custom', xAxisIndex: i, yAxisIndex: i, silent: true, z: 2, clip: true,
    renderItem: errRender('#ababab'), encode: {x: 0, y: 1},
    data: panels[i].filter(p => p.length >= 4).concat(i === 3 ? unlinkedRightHighlight : [])
  });
  series.push({
    type: 'scatter', xAxisIndex: i, yAxisIndex: i, silent: true, z: 3,
    symbol: 'circle', symbolSize: SYM,
    itemStyle: {color: 'rgba(0,0,0,0)', borderColor: RING, borderWidth: SYMW, opacity: 1},
    data: panels[i].map(p => [p[0], p[1]])
  });
}
series.push({
  type: 'scatter', xAxisIndex: 3, yAxisIndex: 3, silent: true, z: 5,
  symbol: 'circle', symbolSize: SYM,
  itemStyle: {color: 'rgba(0,0,0,0)', borderColor: '#c45c0a', borderWidth: SYMW, opacity: 1},
  data: unlinkedRightHighlight.map(p => [p[0], p[1]])
});

const graphic = [];
const colCenters = [(L + MX) / 2, (MX + R) / 2];
colTitles.forEach((t, c) => graphic.push({
  type: 'text', x: colCenters[c], y: 11, z: 50,
  style: {text: t, font: '31px ' + FONT, fill: '#000', align: 'center', verticalAlign: 'top', lineHeight: 40}
}));
const rowCenters = [(T + MY) / 2, (MY + B) / 2];
rowLabels.forEach((t, r) => graphic.push({
  type: 'text', x: 1216, y: rowCenters[r], rotation: -Math.PI / 2, z: 50,
  style: {text: t, font: '31px ' + FONT, fill: '#000', align: 'center', verticalAlign: 'middle'}
}));
for (let i = 0; i < 4; i++) {
  const g = gridBoxes[i];
  graphic.push({
    type: 'text', x: g.left + 10 + (i % 2) * 2, y: g.top + 9 + Math.floor(i / 2) * 2, z: 50,
    style: {
      text: '{i|p}({i|t} ∈ CI) = ' + pInCI[i] + '\nRMSE = ' + rmse[i],
      font: '24px ' + FONT, fill: '#000', lineHeight: 36, verticalAlign: 'top',
      rich: {i: {font: 'italic 24px ' + FONT, fill: '#000'}}
    }
  });
}
graphic.push({
  type: 'text', x: 53, y: 520, rotation: Math.PI / 2, z: 50,
  style: {text: 'Estimated time ({b|t\u0302})', font: '51px ' + FONT, fill: '#000', align: 'center', verticalAlign: 'middle',
    rich: {b: {font: 'italic bold 51px ' + FONT, fill: '#000'}}}
});
graphic.push({
  type: 'text', x: 630, y: 1016, z: 50,
  style: {text: 'True event time ({b|t})', font: '50px ' + FONT, fill: '#000', align: 'center', verticalAlign: 'middle',
    rich: {b: {font: 'italic bold 50px ' + FONT, fill: '#000'}}}
});
graphic.push({
  type: 'rect', z: 60, silent: true,
  shape: {x: L, y: T, width: R - L, height: B - T},
  style: {fill: 'none', stroke: '#000', lineWidth: 7}
});

const chart = echarts.init(document.getElementById('c'), null, {renderer: 'canvas'});
chart.setOption({animation: false, backgroundColor: '#fff', grid, xAxis, yAxis, series, graphic});
</script></body></html>
